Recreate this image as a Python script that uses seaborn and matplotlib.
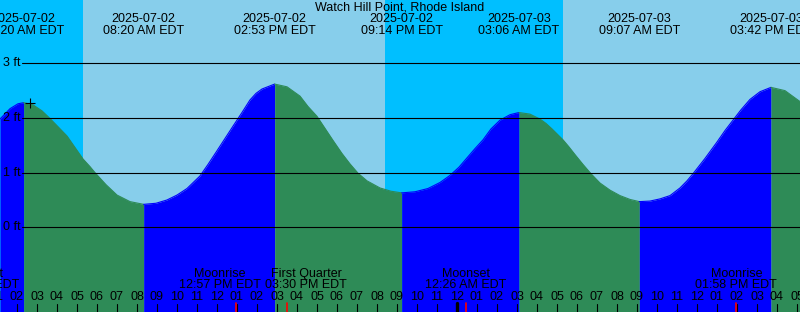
import numpy as np
import pandas as pd
import matplotlib
matplotlib.use("Agg")
import matplotlib.pyplot as plt
import matplotlib.transforms as mtransforms
import seaborn as sns

# ---------------- data ----------------
title = "Watch Hill Point, Rhode Island"

# tide height readings (hours after 2025-07-02 00:00 EDT, feet)
tide_hours = [1.15, 1.65, 2.05, 2.333, 2.80, 3.25, 3.65, 4.05, 4.50, 4.90, 5.30, 5.65, 5.90, 6.45, 7.00, 7.65, 8.333,
              8.95, 9.50, 10.00, 10.50, 11.15, 11.55, 12.00, 12.80, 13.25, 13.65, 13.95, 14.25, 14.883,
              15.50, 16.15, 16.55, 17.00, 17.40, 17.80, 18.25, 18.65, 19.05, 19.50, 20.15, 20.70, 21.233,
              21.90, 22.55, 23.15, 23.65, 24.10, 24.50, 24.90, 25.30, 25.70, 26.15, 26.65, 27.10,
              27.65, 28.15, 28.45, 28.75, 29.30, 29.60, 29.90, 30.30, 30.70, 31.15, 31.65, 32.15, 32.65, 33.117,
              33.65, 34.15, 34.65, 35.15, 35.50, 35.80, 36.10, 36.40, 36.70, 37.00, 37.40, 37.80, 38.20, 38.65,
              39.15, 39.70,
              40.40, 41.15]
tide_ft = [1.98, 2.17, 2.26, 2.28, 2.24, 2.13, 1.99, 1.84, 1.67, 1.46, 1.25, 1.11, 1.00, 0.78, 0.59, 0.47, 0.42,
           0.44, 0.50, 0.59, 0.71, 0.94, 1.15, 1.40, 1.85, 2.10, 2.33, 2.45, 2.53, 2.62,
           2.57, 2.40, 2.21, 2.03, 1.81, 1.59, 1.35, 1.16, 0.99, 0.85, 0.72, 0.66, 0.63,
           0.65, 0.71, 0.82, 0.95, 1.10, 1.27, 1.44, 1.60, 1.80, 1.96, 2.06, 2.10,
           2.07, 1.98, 1.90, 1.80, 1.60, 1.47, 1.33, 1.15, 0.98, 0.81, 0.68, 0.58, 0.51, 0.47,
           0.48, 0.52, 0.58, 0.72, 0.85, 0.98, 1.12, 1.26, 1.41, 1.56, 1.77, 1.96, 2.15, 2.34,
           2.48, 2.56,
           2.50, 2.30]

# high / low tide events (top labels)
extreme_hours = [2.333, 8.333, 14.883, 21.233, 27.100, 33.117, 39.700]
extreme_dates = ["2025-07-02", "2025-07-02", "2025-07-02", "2025-07-02",
                 "2025-07-03", "2025-07-03", "2025-07-03"]
extreme_times = ["02:20 AM EDT", "08:20 AM EDT", "02:53 PM EDT", "09:14 PM EDT",
                 "03:06 AM EDT", "09:07 AM EDT", "03:42 PM EDT"]

# sun events (hours)
sun_hours = [5.30, 20.40, 29.32]
sun_kinds = ["rise", "set", "rise"]

# moon events (bottom labels)
moon_hours = [0.10, 12.95, 15.50, 24.433, 37.967]
moon_names = ["Moonset", "Moonrise", "First Quarter", "Moonset", "Moonrise"]
moon_times = ["12:06 AM EDT", "12:57 PM EDT", "03:30 PM EDT", "12:26 AM EDT", "01:58 PM EDT"]

depth_levels = [0, 1, 2, 3]
depth_labels = ["0 ft", "1 ft", "2 ft", "3 ft"]
hour_ticks = list(range(1, 42))
midnight_hours = [24]
now_hour, now_ft = 2.65, 2.27

# ---------------- layout / style ----------------
W, H = 800, 312
X0, X1 = 1.15, 41.15
Y0, Y1 = -1.549, 4.158
moon_label_shift = [0.0, -0.8, 0.95, 0.0, 0.0]   # hours, to avoid overlap

NIGHT = "#00bfff"
DAY = "#87ceeb"
FLOOD = "#0000ff"
EBB = "#2e8b57"
FS = 9

sns.set_theme(style="white")
plt.rcParams["font.family"] = ["Liberation Sans", "DejaVu Sans"]

fig = plt.figure(figsize=(W / 100, H / 100), dpi=100)
ax = fig.add_axes([0, 0, 1, 1])
ax.set_xlim(X0, X1)
ax.set_ylim(Y0, Y1)
ax.set_axis_off()

def fy(ypix):
    return 1 - ypix / H

# day/night background
bounds = [X0] + sun_hours + [X1]
state = "night" if sun_kinds[0] == "rise" else "day"
for a, b in zip(bounds[:-1], bounds[1:]):
    ax.axvspan(a, b, color=NIGHT if state == "night" else DAY, lw=0, zorder=0)
    state = "day" if state == "night" else "night"

# tide fill, split into rising/falling runs
t = np.array(tide_hours)
h = np.array(tide_ft)
rising = np.diff(h) > 0
start = 0
for i in range(1, len(rising) + 1):
    if i == len(rising) or rising[i] != rising[start]:
        seg = slice(start, i + 1)
        col = FLOOD if rising[start] else EBB
        ax.fill_between(t[seg], h[seg], Y0, color=col, lw=0, zorder=1)
        sns.lineplot(x=t[seg], y=h[seg], color=col, lw=0.8, ax=ax, zorder=1,
                     sort=False, estimator=None)
        start = i

# depth lines and labels
blend = mtransforms.blended_transform_factory(ax.transAxes, ax.transData)
for lvl, lab in zip(depth_levels, depth_labels):
    ax.axhline(lvl, xmin=22 / W, xmax=1, color="black", lw=0.8, zorder=2)
    ax.text(3 / W, lvl, lab, transform=blend, ha="left", va="center",
            fontsize=FS, color="black", zorder=3)

# current time marker
ax.plot([now_hour], [now_ft], marker="+", ms=6.5, mew=0.8, color="black", zorder=3)

# title
ax.text(0.5, fy(7.5), title, transform=ax.transAxes, ha="center", va="center",
        fontsize=FS, color="black", zorder=3)

# extreme labels
blend_x = mtransforms.blended_transform_factory(ax.transData, ax.transAxes)
for th, d, tm in zip(extreme_hours, extreme_dates, extreme_times):
    ax.text(th, fy(19.5), d, transform=blend_x, ha="center", va="center",
            fontsize=FS, color="black", zorder=3)
    ax.text(th, fy(31.5), tm, transform=blend_x, ha="center", va="center",
            fontsize=FS, color="black", zorder=3)

# moon labels
for mh, nm, tm, sh in zip(moon_hours, moon_names, moon_times, moon_label_shift):
    ax.text(mh + sh, fy(274), nm, transform=blend_x, ha="center", va="center",
            fontsize=FS, color="black", zorder=3)
    ax.text(mh + sh, fy(285.5), tm, transform=blend_x, ha="center", va="center",
            fontsize=FS, color="black", zorder=3)

# hour ticks and labels
for hr in hour_ticks:
    lab = "%02d" % ((hr % 12) or 12)
    ax.text(hr, fy(297), lab, transform=blend_x, ha="center", va="center",
            fontsize=FS, color="black", zorder=3)
    ax.axvline(hr, ymin=0, ymax=8 / H, color="black", lw=0.8, zorder=3)
for mh in midnight_hours:
    ax.axvline(mh, ymin=0, ymax=9 / H, color="black", lw=2.4, zorder=3)
for mh in moon_hours:
    ax.axvline(mh, ymin=0, ymax=9 / H, color="red", lw=1.2, zorder=4)

fig.savefig("out.png", dpi=100)
